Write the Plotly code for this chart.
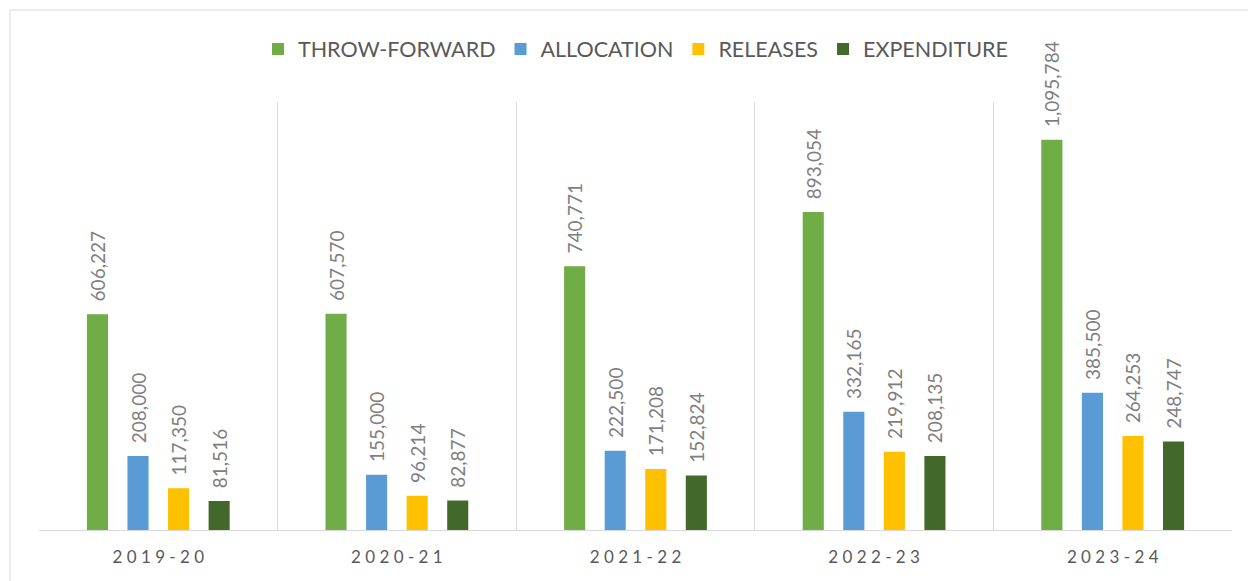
import plotly.graph_objects as go

years = ["2019-20", "2020-21", "2021-22", "2022-23", "2023-24"]
throw_forward = [606227, 607570, 740771, 893054, 1095784]
allocation = [208000, 155000, 222500, 332165, 385500]
releases = [117350, 96214, 171208, 219912, 264253]
expenditure = [81516, 82877, 152824, 208135, 248747]

series = [
    ("THROW-FORWARD", throw_forward, "#70AD47"),
    ("ALLOCATION", allocation, "#5B9BD5"),
    ("RELEASES", releases, "#FFC000"),
    ("EXPENDITURE", expenditure, "#43682B"),
]

FONT = "Lato"
GRAY = "#595959"

fig = go.Figure()
for name, vals, color in series:
    fig.add_trace(go.Bar(
        name=name, x=years, y=vals,
        marker=dict(color=color, line=dict(width=0)),
        texttemplate="\u00a0\u00a0%{y:,}",
        textposition="outside", textangle=-90,
        textfont=dict(family=FONT, size=19, color="#7F7F7F"),
        constraintext="none", cliponaxis=False,
    ))

fig.update_layout(
    width=1248, height=581,
    margin=dict(l=39, r=16, t=102, b=51),
    paper_bgcolor="white", plot_bgcolor="white",
    barmode="group", bargap=0.32, bargroupgap=0.48,
    font=dict(family=FONT, color=GRAY),
    legend=dict(orientation="h", x=0.5, xanchor="center", y=1.124, yanchor="middle",
                font=dict(family=FONT, size=21.5, color=GRAY), itemclick=False,
                traceorder="normal"),
    xaxis=dict(
        type="category", tickson="boundaries", showgrid=True, gridcolor="#D9D9D9", gridwidth=1,
        showline=True, linecolor="#D9D9D9", linewidth=1, ticks="",
        tickmode="array", tickvals=years, ticktext=[" ".join(y) for y in years],
        tickfont=dict(family=FONT, size=17, color=GRAY), range=[-0.5, 4.5],
        ticklabelstandoff=12,
    ),
    yaxis=dict(range=[0, 1202000], showgrid=False, zeroline=False, showticklabels=False,
               showline=False),
    shapes=[dict(type="rect", xref="paper", yref="paper", x0=-0.0243, x1=1.03, y0=-0.3, y1=1.215,
                 line=dict(color="#D9D9D9", width=1), fillcolor="rgba(0,0,0,0)", layer="below")],
)

fig.write_html("out.html", config={"displayModeBar": False},
               post_script="document.body.style.margin='0';")
